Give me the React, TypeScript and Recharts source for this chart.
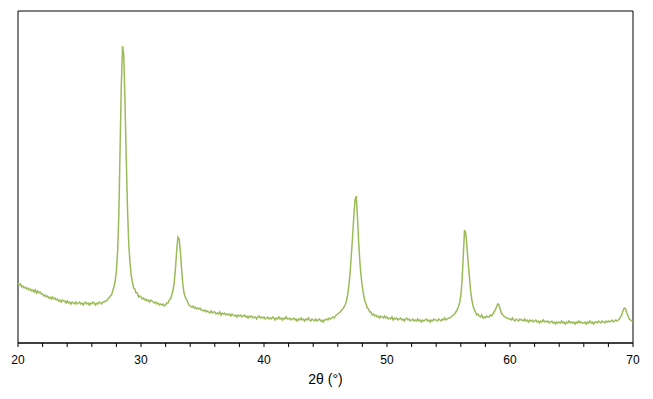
import { LineChart, Line, XAxis, YAxis, ReferenceArea, Label } from 'recharts';

// XRD scan: 2θ from 20° to 70°, step 0.1°
const scanStart = 20;
const scanStep = 0.1;

// intensity (a.u.), one row per degree
const counts20s = [
  60, 58, 59, 56, 57, 55, 56, 54, 55, 53,
  54, 52, 53, 51, 53, 50, 52, 50, 51, 49,
  49, 47, 48, 46, 47, 45, 46, 44, 46, 44,
  45, 43, 44, 42, 43, 41, 43, 42, 42, 40,
  42, 40, 41, 39, 41, 40, 39, 41, 39, 40,
  41, 39, 40, 38, 40, 41, 39, 40, 38, 40,
  39, 41, 40, 38, 40, 39, 41, 40, 39, 41,
  41, 42, 42, 44, 45, 47, 48, 52, 56, 62,
  72, 92, 130, 195, 258, 297, 288, 240, 185, 135,
  100, 81, 68, 61, 55, 54, 50, 50, 46, 47,
];
const counts30s = [
  46, 44, 45, 43, 44, 42, 43, 41, 43, 42,
  41, 40, 41, 39, 40, 38, 39, 38, 39, 37,
  38, 40, 40, 43, 44, 48, 53, 60, 74, 92,
  106, 104, 92, 74, 59, 50, 46, 43, 41, 38,
  37, 36, 37, 35, 36, 34, 35, 34, 35, 33,
  33, 32, 33, 31, 32, 31, 30, 32, 30, 31,
  31, 29, 30, 29, 31, 28, 30, 29, 30, 28,
  29, 28, 29, 27, 29, 28, 27, 28, 26, 28,
  27, 28, 26, 27, 28, 26, 27, 25, 27, 26,
  27, 25, 26, 26, 24, 26, 27, 25, 26, 25,
];
const counts40s = [
  26, 24, 25, 26, 24, 25, 24, 26, 25, 23,
  25, 24, 26, 24, 25, 23, 25, 24, 26, 24,
  24, 25, 23, 24, 25, 23, 24, 22, 24, 23,
  25, 23, 24, 22, 24, 23, 25, 23, 22, 24,
  23, 22, 24, 22, 23, 24, 22, 23, 21, 23,
  23, 24, 23, 25, 24, 25, 26, 25, 27, 28,
  29, 30, 31, 33, 34, 36, 38, 42, 48, 57,
  70, 88, 106, 126, 143, 147, 126, 100, 80, 66,
  56, 48, 42, 39, 35, 34, 31, 31, 28, 29,
  27, 28, 26, 27, 25, 27, 26, 25, 27, 25,
];
const counts50s = [
  26, 24, 25, 24, 26, 23, 25, 24, 25, 23,
  24, 25, 23, 24, 22, 24, 25, 23, 24, 22,
  23, 24, 22, 23, 22, 24, 22, 23, 21, 23,
  22, 23, 24, 22, 23, 21, 23, 22, 24, 23,
  23, 22, 24, 23, 22, 24, 23, 25, 23, 24,
  25, 25, 26, 27, 28, 29, 31, 33, 36, 40,
  47, 62, 86, 113, 110, 96, 80, 66, 52, 43,
  37, 33, 31, 28, 29, 27, 26, 28, 25, 26,
  25, 27, 26, 26, 28, 27, 29, 31, 33, 36,
  39, 38, 34, 30, 28, 27, 26, 25, 25, 24,
];
const counts60s = [
  24, 23, 25, 23, 22, 24, 23, 22, 24, 23,
  23, 22, 24, 22, 23, 21, 23, 22, 23, 21,
  22, 23, 21, 22, 20, 22, 21, 23, 21, 22,
  21, 22, 20, 21, 22, 20, 21, 19, 21, 20,
  21, 20, 22, 20, 21, 19, 21, 20, 22, 20,
  21, 20, 21, 19, 21, 20, 22, 20, 21, 20,
  20, 21, 19, 21, 20, 22, 20, 21, 19, 21,
  21, 20, 22, 21, 20, 22, 21, 20, 22, 21,
  22, 21, 22, 23, 21, 22, 23, 22, 23, 24,
  26, 29, 33, 35, 34, 30, 27, 24, 23, 22,
];
const counts70 = [21];

const xTicks = [20, 22, 24, 26, 28, 30, 32, 34, 36, 38, 40, 42, 44, 46, 48, 50, 52, 54, 56, 58, 60, 62, 64, 66, 68, 70];

const intensity = [...counts20s, ...counts30s, ...counts40s, ...counts50s, ...counts60s, ...counts70];
const data = intensity.map((v, i) => ({
  t: Math.round((scanStart + i * scanStep) * 10) / 10,
  i: v,
}));

const font = '"Liberation Sans", Arial, sans-serif';

export default function App() {
  return (
    <div style={{ position: 'absolute', left: 0, top: 0, fontFamily: font }}>
      <LineChart
        width={653}
        height={399}
        data={data}
        margin={{ top: 11, right: 20, bottom: 0, left: 18 }}
      >
        <XAxis
          dataKey="t"
          type="number"
          domain={[20, 70]}
          ticks={xTicks}
          interval={0}
          tickFormatter={(v: number) => (v % 10 === 0 ? String(v) : '')}
          tickSize={4}
          tickMargin={8}
          height={56}
          stroke="#000"
          tick={{ fontSize: 12, fill: '#000', fontFamily: font }}
        >
          <Label
            value="2θ (°)"
            position="insideBottom"
            offset={15}
            style={{ fontSize: 14, fill: '#000', fontFamily: font }}
          />
        </XAxis>
        <YAxis hide domain={[0, 332]} />
        <ReferenceArea x1={20} x2={70} y1={0} y2={332} fill="none" stroke="#000" strokeWidth={1} />
        <Line
          type="linear"
          dataKey="i"
          stroke="#9BBB59"
          strokeWidth={1.5}
          dot={false}
          isAnimationActive={false}
        />
      </LineChart>
    </div>
  );
}
